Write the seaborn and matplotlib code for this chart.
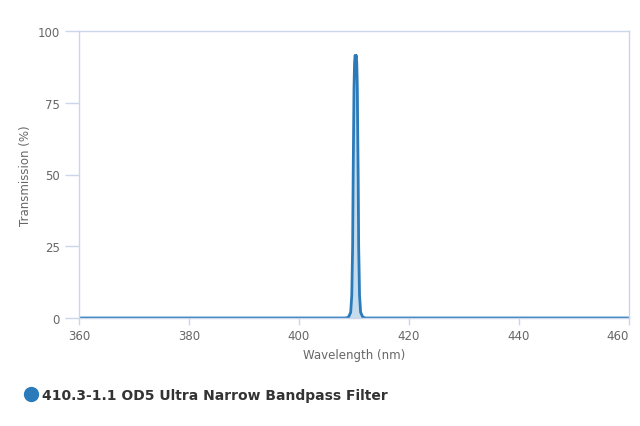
import matplotlib
matplotlib.use("Agg")
import matplotlib.pyplot as plt
import seaborn as sns
import pandas as pd
from matplotlib.lines import Line2D

wavelength = [360, 408.5, 409.0, 409.4, 409.6, 409.75, 409.85, 410.0, 410.1, 410.2, 410.3, 410.4, 410.5, 410.6, 410.75, 410.85, 411.0, 411.2, 411.6, 412.1, 460]
transmission = [0, 0, 0.3, 2, 8, 25, 50, 80, 89, 91.5, 90.5, 91.5, 89, 80, 50, 25, 8, 2, 0.3, 0, 0]
series_name = "410.3-1.1 OD5 Ultra Narrow Bandpass Filter"
x_ticks = [360, 380, 400, 420, 440, 460]
y_ticks = [0, 25, 50, 75, 100]

df = pd.DataFrame({"Wavelength": wavelength, "Transmission": transmission})

sns.set_style("white")
plt.rcParams["font.family"] = ["DejaVu Sans"]

line_color = "#2b7bba"
fill_color = "#c6dcec"
frame_color = "#ccd6eb"
text_color = "#666666"

fig = plt.figure(figsize=(6.4, 4.27), dpi=100)
ax = fig.add_axes([79/640, 1 - 319/427, (629-79)/640, (319-32)/427])

ax.fill_between(df["Wavelength"], df["Transmission"], color=fill_color, alpha=1.0, zorder=1)
sns.lineplot(data=df, x="Wavelength", y="Transmission", ax=ax, color=line_color,
             linewidth=2, zorder=2, estimator=None, sort=False)

ax.set_xlim(360, 460)
ax.set_ylim(0, 100)
ax.set_xticks(x_ticks)
ax.set_yticks(y_ticks)
ax.set_xticklabels([str(t) for t in x_ticks])
ax.set_yticklabels([str(t) for t in y_ticks])
ax.get_xticklabels()[-1].set_horizontalalignment("right")

for s in ax.spines.values():
    s.set_color(frame_color)
    s.set_linewidth(1)

ax.tick_params(axis="y", left=True, direction="out", length=10, width=1, color=frame_color,
               labelcolor=text_color, labelsize=8.5, pad=4)
ax.tick_params(axis="x", bottom=True, direction="out", length=5, width=1, color=frame_color,
               labelcolor=text_color, labelsize=8.5, pad=3)
ax.set_xlabel("Wavelength (nm)", color=text_color, fontsize=8.5, labelpad=4)
ax.set_ylabel("Transmission (%)", color=text_color, fontsize=8.5)
ax.yaxis.set_label_coords(-47/550, 0.5)
ax.grid(False)

# legend
handle = Line2D([], [], marker="o", linestyle="none", markersize=10,
                markerfacecolor=line_color, markeredgecolor=line_color)
fig.legend([handle], [series_name], loc="center left", bbox_to_anchor=(8/640, 1 - 396/427),
           frameon=False, handletextpad=0.05, handlelength=1.5,
           prop={"weight": "bold", "size": 10}, labelcolor="#333333")

fig.savefig("out.png", dpi=100)
